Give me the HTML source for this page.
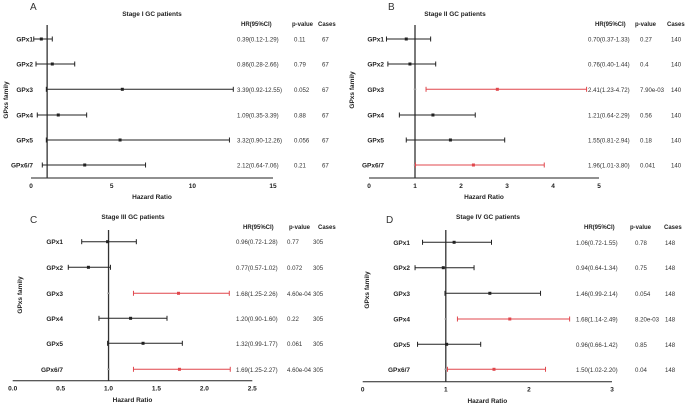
<!DOCTYPE html>
<html><head><meta charset="utf-8"><style>
html,body{margin:0;padding:0;background:#fff;}
svg{display:block;font-family:"Liberation Sans",sans-serif;}
</style></head><body>
<svg id="chart" width="685" height="405" viewBox="0 0 685 405"></svg>
<script>
const categories = ["GPx1","GPx2","GPx3","GPx4","GPx5","GPx6/7"];
// Panel A (plotted positions)
const aLo = [0.17,0.31,0.95,0.39,0.95,0.70];
const aPt = [0.64,1.32,5.66,1.69,5.52,3.33];
const aHi = [1.32,2.71,12.54,3.45,12.3,7.10];
const aSig = [0,0,0,0,0,0];
const aTicks = ["0","5","10","15"];
const aTickVals = [0,5,10,15];
const aHR = ["0.39(0.12-1.29)","0.86(0.28-2.66)","3.39(0.92-12.55)","1.09(0.35-3.39)","3.32(0.90-12.26)","2.12(0.64-7.06)"];
const aP = ["0.11","0.79","0.052","0.88","0.056","0.21"];
const aN = ["67","67","67","67","67","67"];
// Panel B
const bLo = [0.38,0.41,1.24,0.66,0.81,1.01];
const bPt = [0.81,0.89,2.79,1.39,1.77,2.27];
const bHi = [1.34,1.45,4.73,2.31,2.95,3.81];
const bSig = [0,0,1,0,0,1];
const bTicks = ["0","1","2","3","4","5"];
const bTickVals = [0,1,2,3,4,5];
const bHR = ["0.70(0.37-1.33)","0.76(0.40-1.44)","2.41(1.23-4.72)","1.21(0.64-2.29)","1.55(0.81-2.94)","1.96(1.01-3.80)"];
const bP = ["0.27","0.4","7.90e-03","0.56","0.18","0.041"];
const bN = ["140","140","140","140","140","140"];
// Panel C
const cLo = [0.72,0.58,1.26,0.90,0.99,1.26];
const cPt = [0.99,0.79,1.73,1.23,1.36,1.74];
const cHi = [1.29,1.02,2.26,1.61,1.77,2.27];
const cSig = [0,0,1,0,0,1];
const cTicks = ["0.0","0.5","1.0","1.5","2.0","2.5"];
const cTickVals = [0,0.5,1,1.5,2,2.5];
const cHR = ["0.96(0.72-1.28)","0.77(0.57-1.02)","1.68(1.25-2.26)","1.20(0.90-1.60)","1.32(0.99-1.77)","1.69(1.25-2.27)"];
const cP = ["0.77","0.072","4.60e-04","0.22","0.061","4.60e-04"];
const cN = ["305","305","305","305","305","305"];
// Panel D
const dLo = [0.72,0.63,0.99,1.14,0.66,1.02];
const dPt = [1.10,0.97,1.53,1.77,1.01,1.58];
const dHi = [1.55,1.34,2.14,2.49,1.42,2.20];
const dSig = [0,0,0,1,0,1];
const dTicks = ["0","1","2","3"];
const dTickVals = [0,1,2,3];
const dHR = ["1.06(0.72-1.55)","0.94(0.64-1.34)","1.46(0.99-2.14)","1.68(1.14-2.49)","0.96(0.66-1.42)","1.50(1.02-2.20)"];
const dP = ["0.78","0.75","0.054","8.20e-03","0.85","0.04"];
const dN = ["148","148","148","148","148","148"];

const NS="http://www.w3.org/2000/svg";
const svg=document.getElementById('chart');
function mk(tag,attrs,parent){const e=document.createElementNS(NS,tag);for(const k in attrs)e.setAttribute(k,attrs[k]);(parent||svg).appendChild(e);return e;}
function txt(s,x,y,size,weight,anchor,parent,fill){const t=mk('text',{x:x,y:y,'font-size':size,'font-weight':weight||'normal','text-anchor':anchor||'start',fill:fill||'#222'},parent);t.textContent=s;return t;}

const panels=[
 {id:'a',letter:'A',title:'Stage I GC patients',x0:31,x1:273,dmax:15,axisY:178,rows:[39,64,89.3,115,140,165],lblX:33,refTop:25,
  lo:aLo,pt:aPt,hi:aHi,sig:aSig,ticks:aTicks,tv:aTickVals,hr:aHR,p:aP,n:aN,
  lx:30,ly:10,tx:152,ty:16,ylx:8,yly:100,hrX:237,pX:294,nX:322,hHR:241,hP:292,hN:318,hy:26,xlY:199},
 {id:'b',letter:'B',title:'Stage II GC patients',x0:369,x1:599,dmax:5,axisY:178,rows:[39,64,89.3,115,140,165],lblX:384,refTop:25,
  lo:bLo,pt:bPt,hi:bHi,sig:bSig,ticks:bTicks,tv:bTickVals,hr:bHR,p:bP,n:bN,
  lx:388,ly:10,tx:455,ty:16,ylx:354,yly:90,hrX:588,pX:640,nX:671,hHR:595,hP:635,hN:667,hy:26,xlY:199},
 {id:'c',letter:'C',title:'Stage III GC patients',x0:12.7,x1:252.3,dmax:2.5,axisY:380.7,rows:[241.7,267.3,293.3,318.3,343.3,369.3],lblX:63,refTop:230,
  lo:cLo,pt:cPt,hi:cHi,sig:cSig,ticks:cTicks,tv:cTickVals,hr:cHR,p:cP,n:cN,
  lx:30,ly:223,tx:133,ty:219,ylx:22,yly:295,hrX:236,pX:287,nX:313,hHR:243,hP:289,hN:318,hy:229,xlY:402},
 {id:'d',letter:'D',title:'Stage IV GC patients',x0:362.7,x1:612,dmax:3,axisY:381.7,rows:[242.3,267.7,293.3,319,344.3,369.3],lblX:410,refTop:230,
  lo:dLo,pt:dPt,hi:dHi,sig:dSig,ticks:dTicks,tv:dTickVals,hr:dHR,p:dP,n:dN,
  lx:386,ly:223,tx:488,ty:219,ylx:369,yly:290,hrX:576,pX:635,nX:665,hHR:584,hP:630,hN:664,hy:229,xlY:403}
];

panels.forEach(P=>{
  const g=mk('g',{});
  
  
  const sx=v=>P.x0+(v/P.dmax)*(P.x1-P.x0);
  let e=txt(P.letter,P.lx,P.ly,10,'normal','start',g,'#333');
   
  e=txt(P.title,P.tx,P.ty,6.5,'bold','middle',g);
   
  e=txt('GPxs family',0,0,6.5,'bold','middle',g);
  e.setAttribute('transform','translate('+P.ylx+','+P.yly+') rotate(-90)');
   
  e=mk('line',{x1:P.x0,x2:P.x1,y1:P.axisY,y2:P.axisY,stroke:'#222','stroke-width':1},g);
   
  P.tv.forEach((v,i)=>{
    const t=txt(P.ticks[i],sx(v),P.axisY+10,6.5,'bold','middle',g);
     
  });
  e=txt('Hazard Ratio',(P.x0+P.x1)/2,P.xlY,6.5,'bold','middle',g);
   
  e=mk('line',{x1:sx(1),x2:sx(1),y1:P.refTop,y2:P.axisY,stroke:'#333','stroke-width':1.3},g);
   
  e=txt('HR(95%CI)',P.hHR,P.hy,6,'bold','start',g);  
  e=txt('p-value',P.hP,P.hy,6,'bold','start',g);  
  e=txt('Cases',P.hN,P.hy,6,'bold','start',g);  
  categories.forEach((c,i)=>{
    const y=P.rows[i];
    const col=P.sig[i]?'#e0474c':'#222';
    let t=txt(c,P.lblX,y+2.5,6.5,'bold','end',g);
     
    if(P.sig[i]){const m=mk('line',{x1:sx(1)-1.2,x2:sx(1)+1.2,y1:y,y2:y,stroke:'#999','stroke-width':1.5},g);
       }
    const eg=mk('g',{},g);
    
    
    mk('line',{x1:sx(P.lo[i]),x2:sx(P.hi[i]),y1:y,y2:y,stroke:col,'stroke-width':1},eg);
    mk('line',{x1:sx(P.lo[i]),x2:sx(P.lo[i]),y1:y-2.5,y2:y+2.5,stroke:col,'stroke-width':1},eg);
    mk('line',{x1:sx(P.hi[i]),x2:sx(P.hi[i]),y1:y-2.5,y2:y+2.5,stroke:col,'stroke-width':1},eg);
    const pt=mk('rect',{x:sx(P.pt[i])-1.5,y:y-1.5,width:3,height:3,fill:col},eg);
     
    t=txt(P.hr[i],P.hrX,y+2.5,6.1,'normal','start',g,'#333');  
    t=txt(P.p[i],P.pX,y+2.5,6.1,'normal','start',g,'#333');  
    t=txt(P.n[i],P.nX,y+2.5,6.1,'normal','start',g,'#333');  
  });
});
</script>
</body></html>
